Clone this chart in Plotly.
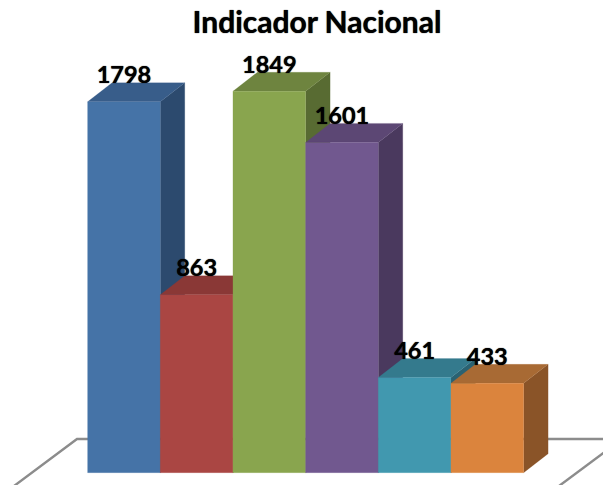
import plotly.graph_objects as go

title = "Indicador Nacional"
values = [1798, 863, 1849, 1601, 461, 433]
front_colors = ["#4573A7", "#AA4643", "#89A54E", "#71588F", "#4198AF", "#DB843D"]
top_colors = ["#385D8A", "#8A3836", "#6E843F", "#5C4774", "#347A8D", "#A86A34"]
side_colors = ["#2C4A6E", "#6E2C2A", "#586B32", "#4A395E", "#2A6272", "#8A5428"]

W, H = 603, 485
BAR_W_PX = 72.67
PX_PER_UNIT = 0.2063
LEFT_PX, BASE_PX = 87.6, 472.7
DEPTH_X = 24.5 / BAR_W_PX
DEPTH_Y = 19 / PX_PER_UNIT
LABEL_OFFSET = 24.5 / PX_PER_UNIT


def x_of(px):
    return (px - LEFT_PX) / BAR_W_PX


def y_of(py):
    return (BASE_PX - py) / PX_PER_UNIT


fig = go.Figure()


def poly(xs, ys, color):
    fig.add_trace(go.Scatter(
        x=xs + xs[:1], y=ys + ys[:1], mode="lines", fill="toself",
        fillcolor=color, line=dict(color=color, width=0.2), hoverinfo="skip",
    ))


# floor outline (behind bars)
floor_color = "#8C8C8C"
fig.add_trace(go.Scatter(
    x=[x_of(10), x_of(77), x_of(610)], y=[y_of(489), y_of(439), y_of(439)],
    mode="lines", line=dict(color=floor_color, width=2.4), hoverinfo="skip",
))
fig.add_trace(go.Scatter(
    x=[x_of(555), x_of(610)], y=[y_of(489), y_of(448)],
    mode="lines", line=dict(color=floor_color, width=2.4), hoverinfo="skip",
))

for i, v in enumerate(values):
    x0, x1 = i, i + 1
    # side
    poly([x1, x1 + DEPTH_X, x1 + DEPTH_X, x1], [0, DEPTH_Y, v + DEPTH_Y, v], side_colors[i])
    # top
    poly([x0, x0 + DEPTH_X, x1 + DEPTH_X, x1], [v, v + DEPTH_Y, v + DEPTH_Y, v], top_colors[i])
    # front
    poly([x0, x1, x1, x0], [0, 0, v, v], front_colors[i])

fig.add_trace(go.Scatter(
    x=[i + 0.5 for i in range(len(values))],
    y=[v + LABEL_OFFSET for v in values],
    text=[str(v) for v in values],
    mode="text", textposition="middle center",
    textfont=dict(family="Lato", size=23.5, color="#000000", weight="bold",
                  shadow="0 0 1px #000"),
    hoverinfo="skip",
))

fig.update_layout(
    width=W, height=H, margin=dict(l=0, r=0, t=0, b=0),
    paper_bgcolor="white", plot_bgcolor="white", showlegend=False,
    title=dict(text=title, x=317 / W, y=1 - 22 / H, xanchor="center", yanchor="middle",
               font=dict(family="Lato", size=30, color="#000000", weight="bold",
                         shadow="0 0 1px #000")),
    xaxis=dict(visible=False, range=[x_of(0), x_of(W)], fixedrange=True),
    yaxis=dict(visible=False, range=[y_of(H), y_of(0)], fixedrange=True),
)

fig.write_html("out.html", config={"displayModeBar": False},
               post_script="document.body.style.margin='0';document.documentElement.style.overflow='hidden';")
